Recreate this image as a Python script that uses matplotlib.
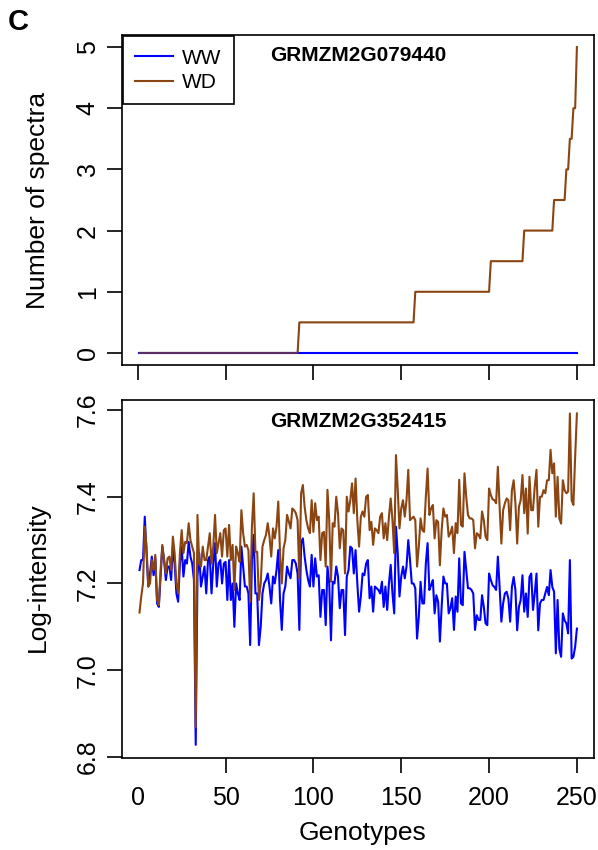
import numpy as np
import matplotlib
matplotlib.use("Agg")
import matplotlib.pyplot as plt

plt.rcParams['font.family'] = ['Liberation Sans', 'DejaVu Sans']

# genotype index (sorted by WD spectra count)
genotypes = np.arange(1, 251)

# top panel: number of spectra, WD is a sorted step series, WW is all zero
wd_levels = [0, 0.5, 1, 1.5, 2, 2.5, 3, 3.5, 4, 5]
wd_level_counts = [91, 66, 43, 19, 17, 7, 2, 2, 2, 1]
spectra_wd = np.repeat(wd_levels, wd_level_counts)
spectra_ww = np.zeros(250)

# bottom panel: log-intensity
logint_ww = [
    7.231, 7.254, 7.254, 7.354, 7.270, 7.193, 7.223, 7.262, 7.219, 7.258,
    7.154, 7.146, 7.216, 7.285, 7.254, 7.208, 7.239, 7.239, 7.208, 7.285,
    7.246, 7.177, 7.158, 7.246, 7.285, 7.216, 7.254, 7.246, 7.296, 7.262,
    7.246, 7.208, 6.828, 7.216, 7.270, 7.193, 7.216, 7.239, 7.177, 7.254,
    7.262, 7.177, 7.246, 7.293, 7.193, 7.246, 7.254, 7.200, 7.246, 7.250,
    7.162, 7.254, 7.162, 7.200, 7.100, 7.200, 7.177, 7.162, 7.285, 7.239,
    7.193, 7.193, 7.177, 7.058, 7.254, 7.312, 7.177, 7.177, 7.058, 7.100,
    7.177, 7.200, 7.208, 7.223, 7.193, 7.154, 7.216, 7.200, 7.231, 7.277,
    7.162, 7.093, 7.177, 7.193, 7.239, 7.223, 7.212, 7.254, 7.254, 7.246,
    7.223, 7.093, 7.293, 7.304, 7.262, 7.231, 7.208, 7.193, 7.266, 7.193,
    7.258, 7.216, 7.219, 7.123, 7.185, 7.185, 7.104, 7.239, 7.200, 7.069,
    7.204, 7.200, 7.239, 7.216, 7.143, 7.185, 7.185, 7.081, 7.216, 7.231,
    7.285, 7.281, 7.223, 7.277, 7.200, 7.135, 7.170, 7.223, 7.219, 7.246,
    7.254, 7.166, 7.193, 7.135, 7.193, 7.189, 7.185, 7.177, 7.204, 7.146,
    7.193, 7.139, 7.200, 7.243, 7.177, 7.131, 7.331, 7.270, 7.170, 7.216,
    7.239, 7.212, 7.239, 7.300, 7.254, 7.200, 7.200, 7.189, 7.073, 7.123,
    7.204, 7.154, 7.154, 7.246, 7.293, 7.185, 7.196, 7.208, 7.131, 7.173,
    7.158, 7.066, 7.146, 7.216, 7.200, 7.200, 7.131, 7.143, 7.166, 7.093,
    7.170, 7.135, 7.258, 7.154, 7.150, 7.273, 7.231, 7.189, 7.189, 7.185,
    7.177, 7.093, 7.127, 7.116, 7.116, 7.173, 7.146, 7.108, 7.104, 7.223,
    7.208, 7.196, 7.192, 7.185, 7.262, 7.192, 7.112, 7.154, 7.177, 7.181,
    7.165, 7.112, 7.192, 7.215, 7.185, 7.092, 7.146, 7.162, 7.219, 7.135,
    7.177, 7.123, 7.215, 7.223, 7.139, 7.177, 7.223, 7.092, 7.154, 7.162,
    7.162, 7.177, 7.192, 7.173, 7.231, 7.192, 7.181, 7.039, 7.162, 7.050,
    7.031, 7.131, 7.115, 7.108, 7.085, 7.254, 7.027, 7.031, 7.054, 7.096,
]
logint_wd = [
    7.133, 7.170, 7.200, 7.331, 7.285, 7.193, 7.200, 7.254, 7.231, 7.266,
    7.162, 7.150, 7.231, 7.289, 7.254, 7.223, 7.258, 7.262, 7.231, 7.308,
    7.270, 7.200, 7.177, 7.270, 7.323, 7.270, 7.296, 7.293, 7.339, 7.300,
    7.285, 7.270, 6.869, 7.358, 7.246, 7.239, 7.285, 7.254, 7.254, 7.285,
    7.316, 7.246, 7.285, 7.358, 7.270, 7.293, 7.316, 7.262, 7.323, 7.327,
    7.262, 7.335, 7.254, 7.289, 7.185, 7.285, 7.270, 7.250, 7.369, 7.316,
    7.285, 7.289, 7.277, 7.158, 7.331, 7.408, 7.273, 7.273, 7.162, 7.200,
    7.285, 7.300, 7.312, 7.339, 7.308, 7.262, 7.327, 7.304, 7.331, 7.389,
    7.270, 7.200, 7.281, 7.300, 7.358, 7.343, 7.327, 7.373, 7.369, 7.362,
    7.346, 7.212, 7.408, 7.427, 7.377, 7.346, 7.327, 7.316, 7.392, 7.319,
    7.385, 7.346, 7.354, 7.254, 7.316, 7.319, 7.239, 7.416, 7.346, 7.204,
    7.339, 7.331, 7.400, 7.362, 7.281, 7.327, 7.323, 7.223, 7.400, 7.366,
    7.392, 7.431, 7.362, 7.442, 7.346, 7.285, 7.354, 7.366, 7.354, 7.400,
    7.404, 7.323, 7.342, 7.289, 7.327, 7.323, 7.316, 7.354, 7.362, 7.304,
    7.339, 7.300, 7.354, 7.396, 7.346, 7.270, 7.496, 7.416, 7.327, 7.373,
    7.392, 7.354, 7.392, 7.462, 7.346, 7.350, 7.354, 7.346, 7.239, 7.285,
    7.350, 7.323, 7.319, 7.400, 7.465, 7.358, 7.373, 7.381, 7.304, 7.346,
    7.342, 7.242, 7.323, 7.373, 7.354, 7.358, 7.308, 7.316, 7.331, 7.270,
    7.339, 7.316, 7.439, 7.335, 7.331, 7.454, 7.400, 7.358, 7.350, 7.350,
    7.346, 7.281, 7.316, 7.312, 7.304, 7.366, 7.346, 7.308, 7.300, 7.419,
    7.404, 7.394, 7.392, 7.385, 7.469, 7.377, 7.292, 7.369, 7.385, 7.396,
    7.392, 7.323, 7.415, 7.438, 7.385, 7.292, 7.377, 7.392, 7.450, 7.362,
    7.419, 7.315, 7.446, 7.369, 7.369, 7.423, 7.462, 7.331, 7.400, 7.400,
    7.415, 7.408, 7.438, 7.438, 7.508, 7.454, 7.477, 7.354, 7.446, 7.350,
    7.338, 7.438, 7.415, 7.408, 7.412, 7.592, 7.392, 7.381, 7.492, 7.592,
]

x_ticks = [0, 50, 100, 150, 200, 250]
top_y_ticks = [0, 1, 2, 3, 4, 5]
bottom_y_ticks = [6.8, 7.0, 7.2, 7.4, 7.6]

BLUE = "#0000FF"
BROWN = "#8B4513"

W, H = 598, 850
fig = plt.figure(figsize=(W / 100, H / 100), dpi=100)


def axes_px(left, top, right, bottom):
    return fig.add_axes([left / W, 1 - bottom / H, (right - left) / W, (bottom - top) / H])


ax1 = axes_px(122, 34.8, 594.4, 365.2)
ax2 = axes_px(122, 400, 594.4, 758.3)

xlim = (1 - 0.04 * 249, 250 + 0.04 * 249)

# top panel: blue under brown, blended where the two coincide
ax1.plot(genotypes, spectra_ww, color=BLUE, lw=1.5)
ax1.plot(genotypes, spectra_wd, color=BROWN, lw=1.5)
overlap = np.where(spectra_wd == spectra_ww, spectra_ww, np.nan)
ax1.plot(genotypes, overlap, color=BLUE, lw=1.5, alpha=0.35)
ax1.set_xlim(*xlim)
ax1.set_ylim(-0.2, 5.2)
ax1.set_xticks(x_ticks)
ax1.set_xticklabels([])
ax1.set_yticks(top_y_ticks)
ax1.set_yticklabels([str(v) for v in top_y_ticks])
ax1.text(0.5, 0.9386, "GRMZM2G079440", transform=ax1.transAxes,
         ha="center", va="center", fontsize=15, fontweight="bold")

h_ww = plt.Line2D([], [], color=BLUE, lw=1.5)
h_wd = plt.Line2D([], [], color=BROWN, lw=1.5)
leg = ax1.legend([h_ww, h_wd], ["WW", "WD"], loc="upper left",
                 bbox_to_anchor=(0.002, 0.996), borderaxespad=0,
                 fontsize=15, handlelength=1.8, handletextpad=0.45,
                 labelspacing=0.25, borderpad=0.6, fancybox=False,
                 framealpha=1, edgecolor="black")
leg.get_frame().set_linewidth(1.2)

# bottom panel
ax2.plot(genotypes, logint_ww, color=BLUE, lw=1.5)
ax2.plot(genotypes, logint_wd, color=BROWN, lw=1.5)
ax2.set_xlim(*xlim)
ax2.set_ylim(6.797, 7.623)
ax2.set_xticks(x_ticks)
ax2.set_xticklabels([str(v) for v in x_ticks])
ax2.set_yticks(bottom_y_ticks)
ax2.set_yticklabels(["%.1f" % v for v in bottom_y_ticks])
ax2.xaxis.get_major_ticks()[0].tick1line.set_visible(False)
ax2.text(0.5, 0.9386, "GRMZM2G352415", transform=ax2.transAxes,
         ha="center", va="center", fontsize=15, fontweight="bold")

for ax in (ax1, ax2):
    for s in ax.spines.values():
        s.set_linewidth(1.2)
    ax.tick_params(direction="out", length=11, width=1.2, labelsize=18, pad=5)
    ax.tick_params(axis="x", pad=9)
    for lab in ax.get_yticklabels():
        lab.set_rotation(90)
        lab.set_va("center")

fig.text(38 / W, 1 - 200 / H, "Number of spectra", rotation=90,
         ha="center", va="center", fontsize=19)
fig.text(38 / W, 1 - 577 / H, "Log-intensity", rotation=90,
         ha="center", va="center", fontsize=19)
fig.text(362 / W, 1 - 833 / H, "Genotypes", ha="center", va="center", fontsize=19)
fig.text(18 / W, 1 - 22 / H, "C", ha="center", va="center",
         fontsize=21, fontweight="bold")

fig.savefig("out.png", dpi=100)
